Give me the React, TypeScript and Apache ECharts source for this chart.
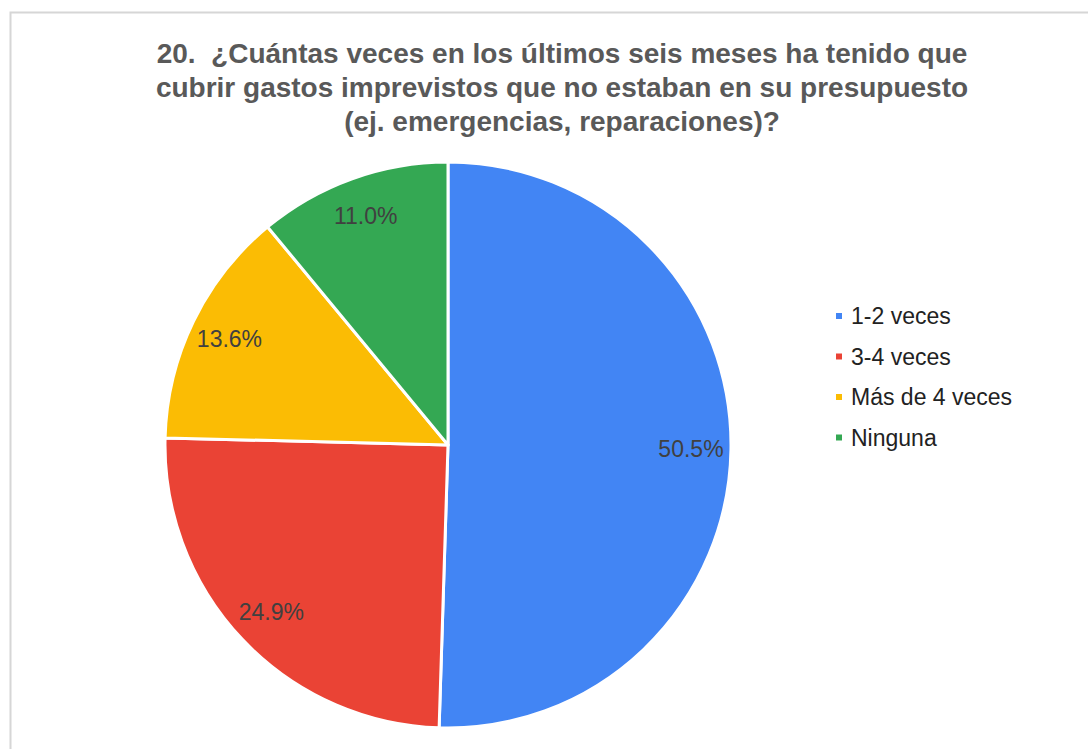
import React, { useEffect, useRef } from "react";
import * as echarts from "echarts";

const titleLines = [
  "20.  ¿Cuántas veces en los últimos seis meses ha tenido que",
  "cubrir gastos imprevistos que no estaban en su presupuesto",
  "(ej. emergencias, reparaciones)?",
];
const categories = ["1-2 veces", "3-4 veces", "Más de 4 veces", "Ninguna"];
const values = [50.5, 24.9, 13.6, 11.0];
const colors = ["#4285F4", "#EA4335", "#FBBC04", "#34A853"];

const FONT = "'Liberation Sans', Arial, sans-serif";

export default function App() {
  const ref = useRef<HTMLDivElement>(null);
  useEffect(() => {
    if (!ref.current) return;
    const chart = echarts.init(ref.current, undefined, { renderer: "svg" });
    const data = categories.map((name, i) => ({
      name,
      value: values[i],
      itemStyle: { color: colors[i] },
    }));
    chart.setOption({
      animation: false,
      backgroundColor: "#ffffff",
      graphic: [
        {
          type: "rect",
          silent: true,
          shape: { x: 10.5, y: 12.5, width: 1200, height: 900 },
          style: { fill: "none", stroke: "#d6d6d6", lineWidth: 2 },
        },
      ],
      title: {
        text: titleLines.join("\n"),
        left: 557,
        top: 31,
        textAlign: "center",
        textStyle: {
          fontFamily: FONT,
          fontSize: 28,
          fontWeight: "bold",
          color: "#595959",
          lineHeight: 34,
        },
      },
      legend: {
        orient: "vertical",
        left: 834,
        top: 304,
        padding: 0,
        icon: "rect",
        itemWidth: 8,
        itemHeight: 8,
        itemGap: 16.5,
        data: categories,
        textStyle: {
          fontFamily: FONT,
          fontSize: 23,
          lineHeight: 24,
          color: "#222222",
          padding: [0, 0, 0, 3],
        },
      },
      series: [
        {
          type: "pie",
          center: [448, 445],
          radius: [0, 283],
          startAngle: 90,
          clockwise: true,
          silent: true,
          itemStyle: { borderColor: "#ffffff", borderWidth: 3 },
          label: { show: false },
          labelLine: { show: false },
          emphasis: { disabled: true },
          data,
        },
        {
          type: "pie",
          center: [448, 445],
          radius: [230, 250],
          startAngle: 90,
          clockwise: true,
          silent: true,
          itemStyle: { color: "rgba(0,0,0,0)", borderWidth: 0 },
          label: {
            show: true,
            position: "inside",
            formatter: (p: any) => p.value.toFixed(1) + "%",
            fontFamily: FONT,
            fontSize: 23,
            color: "#404040",
          },
          labelLine: { show: false },
          emphasis: { disabled: true },
          legendHoverLink: false,
          data: categories.map((name, i) => ({
            name,
            value: values[i],
            itemStyle: { color: "rgba(0,0,0,0)" },
          })),
        },
      ],
    });
    return () => chart.dispose();
  }, []);
  return (
    <div
      ref={ref}
      style={{ position: "fixed", left: 0, top: 0, width: 1088, height: 749 }}
    />
  );
}
